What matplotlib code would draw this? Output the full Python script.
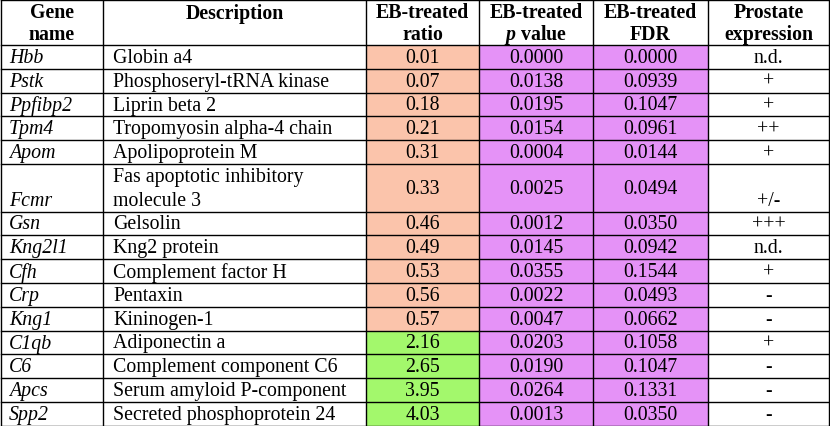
import matplotlib.pyplot as plt
from matplotlib.patches import Rectangle

genes = ['Hbb', 'Pstk', 'Ppfibp2', 'Tpm4', 'Apom', 'Fcmr', 'Gsn', 'Kng2l1',
         'Cfh', 'Crp', 'Kng1', 'C1qb', 'C6', 'Apcs', 'Spp2']
descriptions = ['Globin a4', 'Phosphoseryl-tRNA kinase', 'Liprin beta 2',
                'Tropomyosin alpha-4 chain', 'Apolipoprotein M',
                'Fas apoptotic inhibitory\nmolecule 3', 'Gelsolin', 'Kng2 protein',
                'Complement factor H', 'Pentaxin', 'Kininogen-1', 'Adiponectin a',
                'Complement component C6', 'Serum amyloid P-component',
                'Secreted phosphoprotein 24']
ratio = [0.01, 0.07, 0.18, 0.21, 0.31, 0.33, 0.46, 0.49, 0.53, 0.56, 0.57,
         2.16, 2.65, 3.95, 4.03]
p_value = [0.0000, 0.0138, 0.0195, 0.0154, 0.0004, 0.0025, 0.0012, 0.0145,
           0.0355, 0.0022, 0.0047, 0.0203, 0.0190, 0.0264, 0.0013]
fdr = [0.0000, 0.0939, 0.1047, 0.0961, 0.0144, 0.0494, 0.0350, 0.0942,
       0.1544, 0.0493, 0.0662, 0.1058, 0.1047, 0.1331, 0.0350]
prostate = ['n.d.', '+', '+', '++', '+', '+/-', '+++', 'n.d.', '+', '-', '-',
            '+', '-', '-', '-']

plt.rcParams['font.family'] = 'Liberation Serif'
plt.rcParams['mathtext.fontset'] = 'custom'
plt.rcParams['mathtext.bfit'] = 'Liberation Serif:italic:bold'
plt.rcParams['mathtext.it'] = 'Liberation Serif:italic'

# layout in pixels
col_edges = [1, 103, 366, 479, 593, 708, 829]
header_h = 46
row_h = 23.8

DOWN = '#fbc4ab'
UP = '#a3f86c'
PURPLE = '#e592f7'
FS = 14.3

fig = plt.figure(figsize=(8.3, 4.27), dpi=100)
ax = fig.add_axes([0, 0, 1, 1])
ax.set_xlim(0, 830)
ax.set_ylim(427, 0)
ax.axis('off')

# row tops
tops = [header_h]
for d in descriptions:
    n = d.count('\n') + 1
    tops.append(tops[-1] + row_h * n)

def txt(x, y, s, ha='center', **kw):
    ax.text(x, y, s, ha=ha, va='center', fontsize=FS, **kw)

def mid(i):
    return (col_edges[i] + col_edges[i + 1]) / 2

# header
hdr_top = ['Gene', 'Description', 'EB-treated', 'EB-treated', 'EB-treated', 'Prostate']
hdr_bot = ['name', '', 'ratio', '$\\bfit{p}$ value', 'FDR', 'expression']
for i in range(6):
    txt(mid(i), 13.5, hdr_top[i], fontweight='bold')
    if hdr_bot[i]:
        txt(mid(i), 35, hdr_bot[i], fontweight='bold')

for r in range(len(genes)):
    y0, y1 = tops[r], tops[r + 1]
    yc = (y0 + y1) / 2
    ybot = y1 - row_h / 2
    h = y1 - y0
    ax.add_patch(Rectangle((col_edges[2], y0), col_edges[3] - col_edges[2], h,
                           facecolor=DOWN if ratio[r] < 1 else UP, lw=0))
    ax.add_patch(Rectangle((col_edges[3], y0), col_edges[5] - col_edges[3], h,
                           facecolor=PURPLE, lw=0))
    txt(col_edges[0] + 8, ybot + 0.5, genes[r], ha='left', style='italic')
    lines = descriptions[r].split('\n')
    for k, line in enumerate(lines):
        txt(col_edges[1] + 10, y0 + row_h * (k + 0.5) + 0.5, line, ha='left')
    txt(mid(2), yc + 0.5, f'{ratio[r]:.2f}')
    txt(mid(3), yc + 0.5, f'{p_value[r]:.4f}')
    txt(mid(4), yc + 0.5, f'{fdr[r]:.4f}')
    txt(mid(5), ybot + 0.5, prostate[r])

# grid lines
for t in tops:
    ax.plot([col_edges[0], col_edges[-1]], [t, t], color='black', lw=1)
for x in col_edges:
    ax.plot([x, x], [0.5, tops[-1]], color='black', lw=1)
ax.plot([col_edges[0], col_edges[-1]], [0.5, 0.5], color='black', lw=1)

fig.savefig('out.png', dpi=100)
